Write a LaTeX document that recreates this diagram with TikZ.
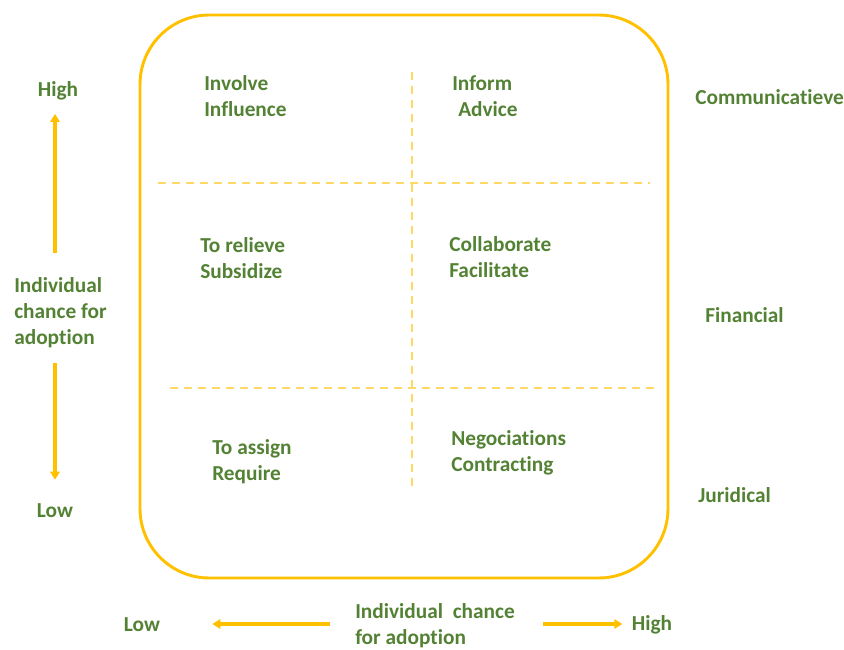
\documentclass[tikz,border=0pt]{standalone}
\usepackage{fontspec}
\setmainfont{Carlito}[Ligatures=NoCommon]
\usetikzlibrary{positioning,calc,arrows.meta}
\definecolor{leafgreen}{HTML}{548235}
\definecolor{amber}{HTML}{FFC000}
\definecolor{paleamber}{HTML}{FFD966}
\tikzset{>={Triangle[width=7pt,length=6pt]},
  lbl/.style={text=leafgreen,font=\bfseries\fontsize{16}{19.5}\selectfont,align=left,inner sep=0pt},
  axis/.style={draw=amber,line width=2.4pt,->},
  grid/.style={draw=paleamber,line width=1.2pt,dash pattern=on 6pt off 4.5pt}}

\begin{document}
\begin{tikzpicture}[x=0.75pt,y=-0.75pt]
  \useasboundingbox (0,0) rectangle (844,650);
  % frame and quadrants
  \draw [amber,line width=2.2pt,rounded corners=52pt] (140,15) rectangle (668,578);
  \draw [grid] (158,183) -- (650,183);
  \draw [grid] (170,388) -- (660,388);
  \draw [grid] (412,72) -- (412,492);
  % cell texts
  \node [lbl,anchor=west] (involve) at (204,96) {Involve\\Influence};
  \node [lbl,anchor=west] (inform) at (452,96) {Inform\\\hspace{4.5pt}Advice};
  \node [lbl,anchor=west] (relieve) at (200,258) {To relieve\\Subsidize};
  \node [lbl,anchor=west] (collab) at (449,257) {Collaborate\\Facilitate};
  \node [lbl,anchor=west] (assign) at (212,462) {To assign\\Require};
  \node [lbl,anchor=west] (negoc) at (451,453) {Negociations\\Contracting};
  % instruments
  \node [lbl,anchor=west] (comm) at (695,97) {Communicatieve};
  \node [lbl,anchor=west] (fin) at (705,315) {Financial};
  \node [lbl,anchor=west] (jur) at (698,495) {Juridical};
  % vertical axis
  \node [lbl] (vhigh) at (58,91) {High};
  \node [lbl,anchor=west] (vmid) at (14,313) {Individual\\chance for\\adoption};
  \node [lbl] (vlow) at (55,511) {Low};
  \coordinate (vup) at (55,253);
  \coordinate (vdown) at (55,363);
  \draw [axis,shorten >=10pt] (vup) -- (vup |- vhigh.south);
  \draw [axis,shorten >=18pt] (vdown) -- (vdown |- vlow.north);
  % horizontal axis
  \node [lbl] (hlow) at (142,625) {Low};
  \node [lbl,anchor=west] (hmid) at (355,626) {Individual\ \ chance\\for adoption};
  \node [lbl] (hhigh) at (652,625) {High};
  \draw [axis,shorten >=39pt] ($(hmid.west)+(-25,-2)$) -- (hlow.east |- 0,624);
  \draw [axis,shorten >=7pt] ($(hmid.east)+(28,-2)$) -- (hhigh.west |- 0,624);
\end{tikzpicture}
\end{document}
